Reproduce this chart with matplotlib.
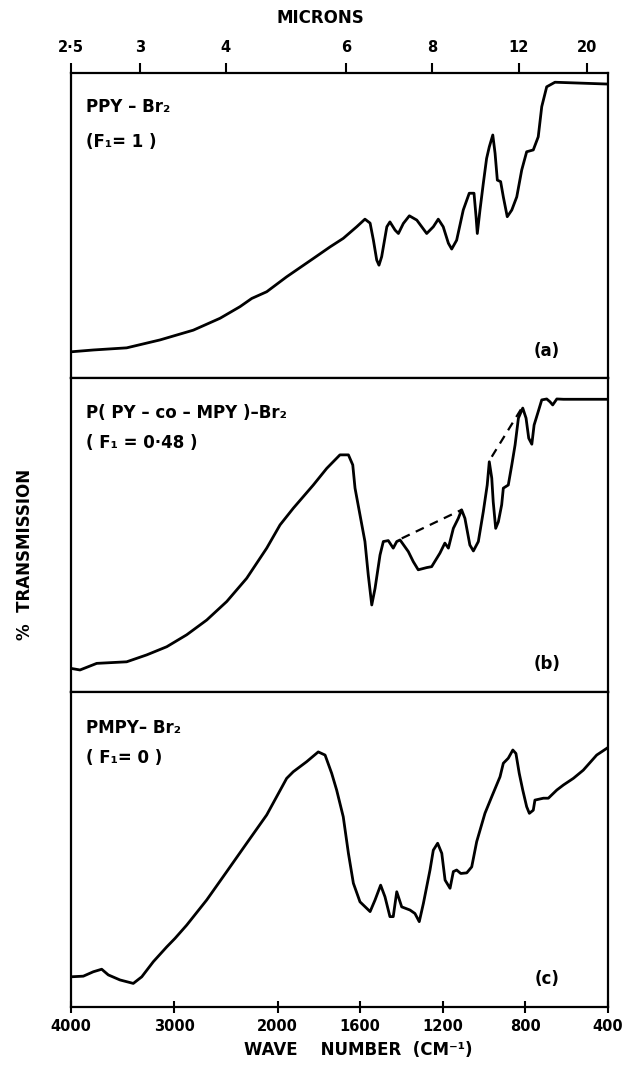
import numpy as np
import matplotlib
matplotlib.use("Agg")
import matplotlib.pyplot as plt

# IR spectra of brominated polypyrroles, wavenumber (cm-1) vs % transmission
# (a) PPY-Br2
wn_a = [4000, 3784, 3461, 3138, 2816, 2557, 2364, 2250, 2105, 1956, 1827, 1746, 1682, 1617, 1577,
        1552, 1536, 1520, 1509, 1496, 1471, 1456, 1431, 1415, 1391, 1362, 1326, 1278, 1246, 1222,
        1198, 1173, 1157, 1133, 1101, 1072, 1049, 1039, 1033, 1020, 1004, 988, 975, 958, 947,
        936, 920, 907, 888, 866, 842, 818, 794, 762, 738, 721, 697, 657, 400]
tr_a = [8.6, 9.2, 9.9, 12.5, 15.7, 19.6, 23.4, 26.1, 28.3, 33.2, 39.2, 43.0, 45.8, 49.6, 52.1,
        50.8, 45.2, 38.7, 37.0, 39.8, 49.6, 51.2, 48.5, 47.4, 50.7, 53.2, 51.8, 47.4, 49.6, 52.1,
        49.6, 44.2, 42.3, 45.2, 55.1, 60.6, 60.6, 52.9, 47.4, 55.1, 63.8, 72.0, 75.8, 79.7, 73.7,
        64.9, 64.4, 59.4, 52.9, 55.1, 59.4, 68.2, 74.2, 74.8, 79.1, 89.0, 95.5, 97.0, 96.4]

# (b) P(PY-co-MPY)-Br2
wn_b = [4000, 3913, 3751, 3461, 3267, 3073, 2880, 2686, 2492, 2299, 2105, 1988, 1924, 1827, 1762,
        1698, 1657, 1636, 1625, 1601, 1577, 1561, 1544, 1528, 1504, 1488, 1464, 1440, 1423, 1407,
        1367, 1343, 1319, 1278, 1254, 1214, 1190, 1173, 1149, 1125, 1109, 1093, 1069, 1052, 1028,
        1004, 985, 975, 963, 956, 944, 931, 915, 907, 883, 866, 850, 834, 813, 797,
        784, 769, 758, 738, 721, 697, 681, 668, 648, 616, 400]
tr_b = [7.5, 7.0, 9.1, 9.6, 11.8, 14.4, 18.2, 22.9, 28.8, 36.2, 45.8, 53.2, 58.5, 65.9, 71.2,
        75.5, 75.5, 72.3, 64.9, 56.4, 47.9, 37.3, 27.7, 33.0, 43.6, 47.9, 48.2, 45.8, 47.9, 48.4,
        44.7, 41.5, 38.9, 39.6, 39.9, 44.2, 47.4, 45.8, 52.1, 55.3, 58.0, 55.3, 46.8, 44.9, 47.9,
        57.4, 65.9, 73.3, 68.1, 60.6, 52.1, 54.2, 59.6, 64.9, 65.9, 72.3, 78.7, 87.2, 90.4, 87.2,
        80.8, 78.9, 85.0, 89.3, 93.0, 93.3, 92.4, 91.4, 93.3, 93.2, 93.2]
# dashed baselines drawn on (b)
dash1_wn = [1399, 1109]
dash1_tr = [48.9, 58.0]
dash2_wn = [963, 818]
dash2_tr = [74.9, 90.4]

# (c) PMPY-Br2
wn_c = [4000, 3881, 3784, 3703, 3639, 3526, 3397, 3315, 3203, 3073, 2993, 2880, 2686, 2492, 2299,
        2105, 1956, 1924, 1859, 1803, 1770, 1738, 1714, 1682, 1657, 1633, 1601, 1552, 1528, 1501,
        1480, 1456, 1440, 1423, 1399, 1359, 1335, 1314, 1294, 1262, 1246, 1225, 1205, 1189, 1165,
        1149, 1133, 1113, 1084, 1060, 1036, 996, 963, 923, 907, 883, 861, 846, 830, 813,
        794, 781, 762, 754, 713, 689, 648, 616, 568, 520, 455, 400]
tr_c = [9.6, 9.8, 11.2, 12.0, 10.2, 8.6, 7.5, 9.6, 14.4, 19.1, 21.8, 26.0, 34.0, 43.0, 52.0,
        61.0, 72.6, 74.7, 77.9, 81.0, 80.0, 74.2, 68.9, 60.4, 48.8, 39.3, 33.4, 30.3, 34.0, 38.7,
        35.0, 28.7, 28.7, 36.6, 31.8, 30.8, 29.7, 27.1, 32.9, 43.5, 49.8, 52.0, 48.8, 40.3, 37.7,
        43.0, 43.5, 42.4, 42.6, 44.5, 52.5, 61.5, 66.8, 73.1, 77.4, 79.0, 81.6, 80.5, 74.2, 68.9,
        63.6, 61.5, 62.5, 65.7, 66.3, 66.3, 68.9, 70.5, 72.6, 75.2, 80.0, 82.4]

wn_ticks = [4000, 3000, 2000, 1600, 1200, 800, 400]
micron_ticks = [2.5, 3, 4, 6, 8, 12, 20]
micron_labels = ["2·5", "3", "4", "6", "8", "12", "20"]

names = ["PPY – Br₂", "P( PY – co – MPY )–Br₂", "PMPY– Br₂"]
fractions = ["(F₁= 1 )", "( F₁ = 0·48 )", "( F₁= 0 )"]
tags = ["(a)", "(b)", "(c)"]


# grating change at 2000 cm-1: scale is doubled below it
def fwd(w):
    w = np.asarray(w, dtype=float)
    return np.where(w >= 2000, w, 2 * w - 2000)


def inv(g):
    g = np.asarray(g, dtype=float)
    return np.where(g >= 2000, g, (g + 2000) / 2)


plt.rcParams["font.family"] = "DejaVu Sans"
plt.rcParams["font.weight"] = "bold"

fig = plt.figure(figsize=(6.23, 10.67), dpi=100)
left, width = 0.114, 0.862
bottoms = [0.6457, 0.3515, 0.0562]
heights = [0.2858, 0.2943, 0.2952]
name_y = [0.89, 0.889, 0.886]
frac_y = [0.775, 0.793, 0.79]
data = [(wn_a, tr_a), (wn_b, tr_b), (wn_c, tr_c)]

axes = []
for i in range(3):
    ax = fig.add_axes([left, bottoms[i], width, heights[i]])
    ax.set_xscale("function", functions=(fwd, inv))
    ax.plot(data[i][0], data[i][1], color="black", lw=2.0, solid_joinstyle="round")
    ax.set_xlim(4000, 400)
    ax.set_ylim(0, 100)
    ax.set_yticks([])
    ax.set_xticks([])
    for s in ax.spines.values():
        s.set_linewidth(1.6)
    ax.text(0.028, name_y[i], names[i], transform=ax.transAxes, fontsize=12,
            va="center", ha="left")
    ax.text(0.028, frac_y[i], fractions[i], transform=ax.transAxes, fontsize=12,
            va="center", ha="left")
    ax.text(0.886, 0.09, tags[i], transform=ax.transAxes, fontsize=12,
            va="center", ha="center")
    axes.append(ax)

axes[1].plot(dash1_wn, dash1_tr, color="black", lw=1.6, ls=(0, (4, 3)))
axes[1].plot(dash2_wn, dash2_tr, color="black", lw=1.6, ls=(0, (4, 3)))

# bottom wavenumber axis
axes[2].set_xticks(wn_ticks)
axes[2].set_xticklabels([str(t) for t in wn_ticks], fontsize=10.5)
axes[2].tick_params(axis="x", direction="inout", length=9, width=1.5, pad=4)

# top micron axis
top = axes[0].twiny()
top.set_xscale("function", functions=(fwd, inv))
top.set_xlim(4000, 400)
top.set_xticks([10000 / m for m in micron_ticks])
top.set_xticklabels(micron_labels, fontsize=10.5)
top.tick_params(axis="x", direction="out", length=7, width=1.5, pad=6)
for s in top.spines.values():
    s.set_visible(False)

fig.text(0.515, 0.983, "MICRONS", ha="center", va="center", fontsize=12)
fig.text(0.575, 0.016, "WAVE    NUMBER  (CM⁻¹)", ha="center", va="center", fontsize=12)
fig.text(0.04, 0.48, "%  TRANSMISSION", rotation=90, ha="center", va="center", fontsize=12)

fig.savefig("out.png", dpi=100)
